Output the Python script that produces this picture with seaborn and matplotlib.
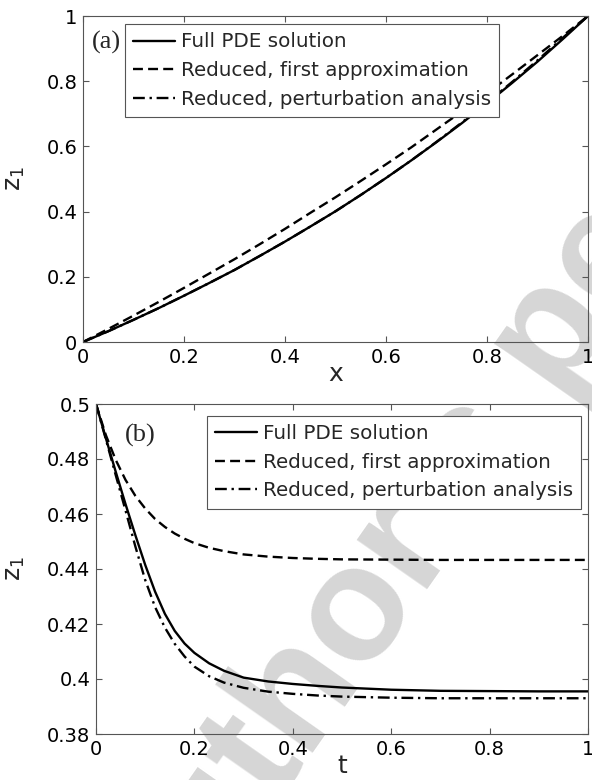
import matplotlib
matplotlib.use("Agg")
import matplotlib.pyplot as plt
from matplotlib.ticker import FuncFormatter
import seaborn as sns

# ---- panel (a): steady profile along x ----
x_pos = [0.0, 0.05, 0.10, 0.15, 0.20, 0.25, 0.30, 0.35, 0.40, 0.45, 0.50,
         0.55, 0.60, 0.65, 0.70, 0.75, 0.80, 0.85, 0.90, 0.95, 1.0]
z_full_x = [0.0, 0.033, 0.068, 0.104, 0.142, 0.181, 0.221, 0.264, 0.308, 0.354, 0.401,
            0.451, 0.503, 0.557, 0.613, 0.671, 0.732, 0.795, 0.860, 0.929, 1.0]
z_first_x = [0.0, 0.040, 0.081, 0.123, 0.166, 0.210, 0.254, 0.300, 0.347, 0.396, 0.444,
             0.494, 0.545, 0.597, 0.652, 0.707, 0.763, 0.821, 0.880, 0.939, 1.0]
z_pert_x = [0.0, 0.033, 0.068, 0.104, 0.142, 0.181, 0.221, 0.264, 0.308, 0.354, 0.401,
            0.451, 0.503, 0.557, 0.614, 0.673, 0.734, 0.798, 0.864, 0.933, 1.0]

# ---- panel (b): transient at the probe point ----
t_pos = [0.0, 0.02, 0.04, 0.06, 0.08, 0.10, 0.12, 0.14, 0.16, 0.18, 0.20, 0.23,
         0.26, 0.30, 0.35, 0.40, 0.45, 0.50, 0.60, 0.70, 0.80, 0.90, 1.0]
z_full_t = [0.5, 0.4876, 0.4754, 0.4636, 0.4523, 0.4415, 0.4318, 0.4237, 0.4175, 0.4129,
            0.4095, 0.4057, 0.4030, 0.4005, 0.3991, 0.3982, 0.3975, 0.3969, 0.3961,
            0.3957, 0.3956, 0.3955, 0.3955]
z_first_t = [0.5, 0.4887, 0.4797, 0.4724, 0.4666, 0.4620, 0.4582, 0.4553, 0.4529, 0.4510,
             0.4494, 0.4477, 0.4465, 0.4453, 0.4445, 0.4440, 0.4437, 0.4435, 0.4434,
             0.4433, 0.4433, 0.4433, 0.4433]
z_pert_t = [0.5, 0.4872, 0.4742, 0.4613, 0.4482, 0.4360, 0.4262, 0.4187, 0.4128, 0.4082,
            0.4045, 0.4010, 0.3987, 0.3968, 0.3954, 0.3946, 0.3940, 0.3936, 0.3932,
            0.3930, 0.3930, 0.3930, 0.3930]

series_names = ["Full PDE solution", "Reduced, first approximation",
                "Reduced, perturbation analysis"]
x_ticks = [0, 0.2, 0.4, 0.6, 0.8, 1.0]
za_ticks = [0, 0.2, 0.4, 0.6, 0.8, 1.0]
zb_ticks = [0.38, 0.40, 0.42, 0.44, 0.46, 0.48, 0.50]

sns.set_theme(style="ticks")
plt.rcParams["font.family"] = ["DejaVu Sans"]
plt.rcParams["mathtext.fontset"] = "dejavusans"

fig = plt.figure(figsize=(5.92, 7.8), dpi=100)
W, H = 592.0, 780.0
ax_a = fig.add_axes([83 / W, 1 - 342 / H, 505 / W, 326 / H], facecolor="none")
ax_b = fig.add_axes([96 / W, 1 - 734 / H, 492 / W, 330 / H], facecolor="none")

line_styles = ["-", (0, (4.2, 2.2)), (0, (5.0, 2.0, 1.0, 2.0))]
fmt = FuncFormatter(lambda v, _: "%g" % round(v, 4))


def draw_panel(ax, xs, ys_list, yticks, ylim, xlabel, tag, tag_xy, leg_anchor):
    for ys, name, ls in zip(ys_list, series_names, line_styles):
        sns.lineplot(x=xs, y=ys, ax=ax, color="black", linewidth=1.7,
                     linestyle=ls, label=name, sort=False)
    ax.set_xlim(0, 1)
    ax.set_ylim(*ylim)
    ax.set_xticks(x_ticks)
    ax.set_yticks(yticks)
    ax.xaxis.set_major_formatter(fmt)
    ax.yaxis.set_major_formatter(fmt)
    ax.tick_params(direction="in", top=True, right=True, length=4, width=0.8,
                   color="#555555", labelsize=14, labelcolor="black", pad=4)
    for sp in ax.spines.values():
        sp.set_color("#555555")
        sp.set_linewidth(0.8)
    ax.set_xlabel(xlabel, fontsize=18, labelpad=-3)
    ax.set_ylabel(r"z$_1$", fontsize=18)
    ax.text(tag_xy[0], tag_xy[1], tag, transform=ax.transAxes, fontsize=19,
            family=["Liberation Serif", "DejaVu Serif"], ha="left", va="center")
    leg = ax.legend(loc="upper right", bbox_to_anchor=leg_anchor, fontsize=14.3,
                    frameon=True, fancybox=False, framealpha=1, edgecolor="#555555",
                    handlelength=2.1, handletextpad=0.3, labelspacing=0.48,
                    borderpad=0.42, borderaxespad=0)
    leg.get_frame().set_linewidth(0.8)
    for h in leg.get_lines():
        h.set_linewidth(1.7)


draw_panel(ax_a, x_pos, [z_full_x, z_first_x, z_pert_x], za_ticks, (0, 1), "x",
           "(a)", (0.018, 0.92), (0.824, 0.975))
draw_panel(ax_b, t_pos, [z_full_t, z_first_t, z_pert_t], zb_ticks, (0.38, 0.5), "t",
           "(b)", (0.059, 0.906), (0.986, 0.964))
ax_a.yaxis.set_label_coords((27 - 83) / 505, 0.5)
ax_b.yaxis.set_label_coords((27 - 96) / 492, 0.5)

# light diagonal stamp behind the plots
fig.text(150 / W, 1 - 985 / H, "Author's personal copy", fontsize=118,
         family=["Liberation Sans", "DejaVu Sans"], fontweight="bold",
         color="#d6d6d6", rotation=55, rotation_mode="anchor",
         ha="left", va="baseline", zorder=-1)

fig.savefig("out.png", dpi=100)
